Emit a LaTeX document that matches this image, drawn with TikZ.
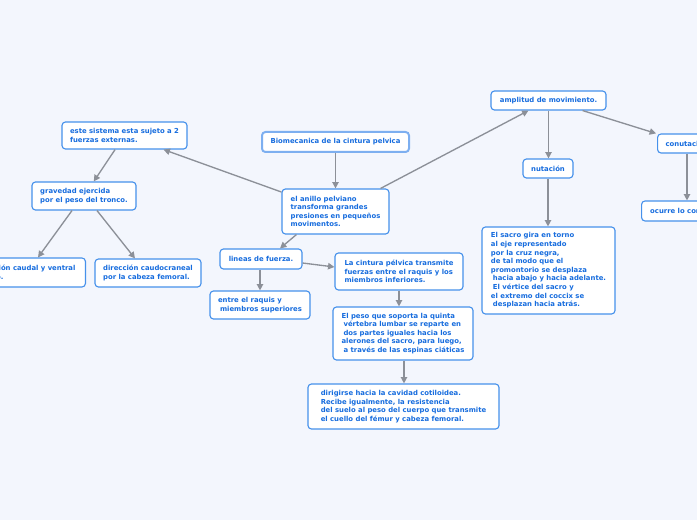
\documentclass[tikz,border=0pt]{standalone}
\usepackage{fontspec}
\newfontfamily\bxfont{DejaVu Sans}
\usetikzlibrary{arrows.meta,calc}
\definecolor{bgcol}{RGB}{243,246,253}
\definecolor{txtblue}{RGB}{22,108,222}
\definecolor{bordblue}{RGB}{70,145,235}
\definecolor{lightbord}{RGB}{125,175,240}
\definecolor{arrgray}{RGB}{140,144,152}
\begin{document}
\begin{tikzpicture}[x=0.75pt,y=-0.75pt,
  box/.style={draw=bordblue, fill=white, rounded corners=2.6pt, line width=0.85pt,
    font=\bxfont\bfseries\fontsize{5.15}{6.45}\selectfont, text=txtblue, align=left,
    inner xsep=0pt, inner ysep=0pt},
  mainbox/.style={box, draw=lightbord, line width=1.5pt},
  arr/.style={draw=arrgray, line width=1pt, -{Triangle[width=4.8pt,length=4.8pt]}}]
\useasboundingbox[fill=bgcol] (0,0) rectangle (697,520);

\node[box, minimum width=125*0.75pt, minimum height=27*0.75pt] (este) at (124.5,135.5)
  {este sistema esta sujeto a 2\\fuerzas externas.};
\node[box, minimum width=104*0.75pt, minimum height=28*0.75pt] (grav) at (84,196)
  {gravedad ejercida\\por el peso del tronco.};
\node[box, anchor=east, inner xsep=7.5pt, minimum height=29*0.75pt] (caud) at (86,272.5)
  {dirección caudal y ventral\\\hspace*{3.5pt}sacro.};
\node[box, minimum width=106*0.75pt, minimum height=28*0.75pt] (craneal) at (148,273)
  {dirección caudocraneal\\por la cabeza femoral.};
\node[mainbox, minimum width=147*0.75pt, minimum height=20*0.75pt] (bio) at (335.5,142)
  {Biomecanica de la cintura pelvica};
\node[box, minimum width=107*0.75pt, minimum height=45*0.75pt] (anillo) at (335.5,211.5)
  {el anillo pelviano\\transforma grandes\\presiones en pequeños\\movimentos.};
\node[box, minimum width=82*0.75pt, minimum height=20*0.75pt] (lineas) at (261,259)
  {lineas de fuerza.};
\node[box, minimum width=100*0.75pt, minimum height=28*0.75pt] (entre) at (260,305)
  {entre el raquis y\\\hspace*{1.5pt}miembros superiores};
\node[box, minimum width=128*0.75pt, minimum height=37*0.75pt] (cint) at (399,271.5)
  {La cintura pélvica transmite\\fuerzas entre el raquis y los\\miembros inferiores.};
\node[box, minimum width=140*0.75pt, minimum height=53*0.75pt] (peso) at (403,333.5)
  {El peso que soporta la quinta\\\hspace*{1.5pt}vértebra lumbar se reparte en\\\hspace*{1.5pt}dos partes iguales hacia los\\alerones del sacro, para luego,\\\hspace*{1.5pt}a través de las espinas ciáticas};
\node[box, minimum width=191*0.75pt, minimum height=45*0.75pt] (dir) at (403.5,406.5)
  {dirigirse hacia la cavidad cotiloidea.\\Recibe igualmente, la resistencia\\del suelo al peso del cuerpo que transmite\\el cuello del fémur y cabeza femoral.};
\node[box, minimum width=115*0.75pt, minimum height=19*0.75pt] (ampl) at (548.5,100.5)
  {amplitud de movimiento.};
\node[box, minimum width=50*0.75pt, minimum height=19*0.75pt] (nut) at (548,168.5)
  {nutación};
\node[box, minimum width=133*0.75pt, minimum height=87*0.75pt] (sacro) at (548.5,270.5)
  {El sacro gira en torno\\al eje representado\\por la cruz negra,\\de tal modo que el\\promontorio se desplaza\\\hspace*{1.5pt}hacia abajo y hacia adelante.\\\hspace*{1.5pt}El vértice del sacro y\\el extremo del coccix se\\\hspace*{1.5pt}desplazan hacia atrás.};
\node[box, anchor=west, inner xsep=6pt, minimum height=19*0.75pt] (conut) at (657,143.5)
  {conutación};
\node[box, anchor=west, inner xsep=6.5pt, minimum height=20*0.75pt] (ocurre) at (641,211)
  {ocurre lo contrario};

\draw[arr] (anillo) -- (este);
\draw[arr] (este) -- (grav);
\draw[arr] ($(grav.south)+(-12,0)$) -- ($(caud.north east)+(-48,0)$);
\draw[arr] ($(grav.south)+(13,0)$) -- ($(craneal.north)+(-13,0)$);
\draw[arr] (bio.south) -- (anillo.north);
\draw[arr] ($(anillo.north east)+(-9,0)$) -- ($(ampl.south)+(-20,0)$);
\draw[arr] ($(anillo.south west)+(15,0)$) -- ($(lineas.north)+(19,0)$);
\draw[arr] ($(lineas.south)+(-1,0)$) -- ($(lineas.south |- entre.north)+(-1,0)$);
\draw[arr] ($(lineas.east)+(0,4)$) -- ($(cint.west)+(0,-4.5)$);
\draw[arr] (cint.south) -- (cint.south |- peso.north);
\draw[arr] ($(peso.south)+(1,0)$) -- ($(peso.south |- dir.north)+(1,0)$);
\draw[arr] (ampl.south) -- (ampl.south |- nut.north);
\draw[arr] ($(ampl.south east)+(-24,0)$) -- ($(conut.north west)+(-1,0)$);
\draw[arr] (nut.south) -- (nut.south |- sacro.north);
\draw[arr] ($(conut.south west)+(30,0)$) -- ($(conut.south west |- ocurre.north)+(30,0)$);
\end{tikzpicture}
\end{document}
